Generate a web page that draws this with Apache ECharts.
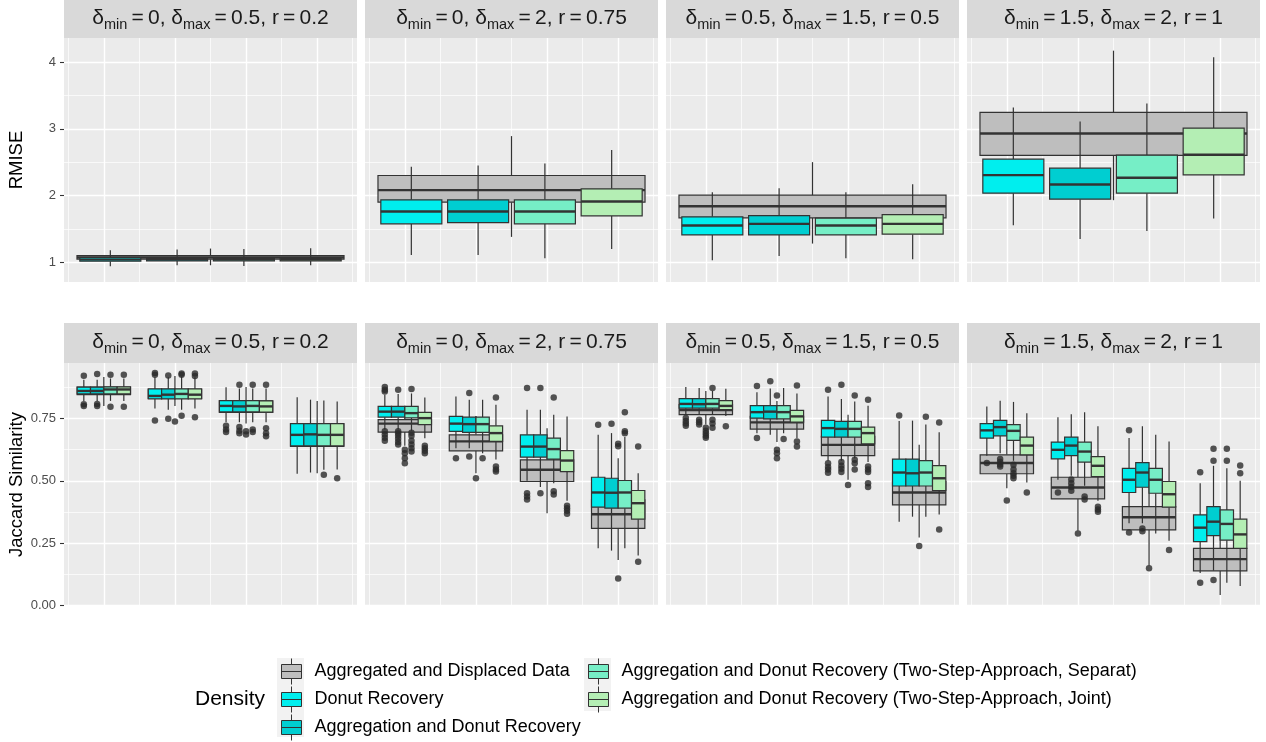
<!DOCTYPE html>
<html>
<head>
<meta charset="utf-8">
<script src="https://cdn.jsdelivr.net/npm/echarts@6/dist/echarts.min.js"></script>
<style>
  html, body { margin: 0; padding: 0; background: #ffffff; }
  #chart { width: 1266px; height: 742px; }
</style>
</head>
<body>
<div id="chart"></div>
<script>
// ---- Categories ----
const methods = [
  'Aggregated and Displaced Data',
  'Donut Recovery',
  'Aggregation and Donut Recovery',
  'Aggregation and Donut Recovery (Two-Step-Approach, Separat)',
  'Aggregation and Donut Recovery (Two-Step-Approach, Joint)'
];
const methodColors = ['#BEBEBE', '#00EEEE', '#00CED1', '#76EEC6', '#B4EEB4'];
const panelDeltaMin = ['0', '0', '0.5', '1.5'];
const panelDeltaMax = ['0.5', '2', '1.5', '2'];
const panelR = ['0.2', '0.75', '0.5', '1'];

// ---- Tick values ----
const rmiseTicks = [1, 2, 3, 4];
const rmiseMinorTicks = [1.5, 2.5, 3.5];
const jaccardTicks = [0, 0.25, 0.5, 0.75];
const jaccardMinorTicks = [0.125, 0.375, 0.625, 0.875];
const groupTicks = [1, 2, 3, 4];
const groupMinorTicks = [0.5, 1.5, 2.5, 3.5, 4.5];

// ---- RMISE: one summary per panel, [min, q1, median, q3, max] ----
const rmiseAggregated = [[0.955, 1.045, 1.07, 1.10, 1.205], [1.38, 1.90, 2.08, 2.30, 2.89], [1.28, 1.665, 1.84, 2.005, 2.50], [1.93, 2.60, 2.93, 3.245, 4.17]];
const rmiseDonut      = [[0.94, 1.015, 1.04, 1.07, 1.18], [1.11, 1.575, 1.76, 1.935, 2.43], [1.03, 1.41, 1.55, 1.68, 2.05], [1.555, 2.035, 2.305, 2.545, 3.32]];
const rmiseAggDonut   = [[0.955, 1.02, 1.045, 1.07, 1.19], [1.11, 1.595, 1.76, 1.935, 2.45], [1.095, 1.41, 1.575, 1.70, 2.11], [1.35, 1.945, 2.165, 2.41, 3.11]];
const rmiseSeparate   = [[0.945, 1.02, 1.045, 1.07, 1.20], [1.06, 1.575, 1.76, 1.935, 2.48], [1.06, 1.41, 1.55, 1.66, 2.05], [1.47, 2.035, 2.265, 2.605, 3.38]];
const rmiseJoint      = [[0.955, 1.02, 1.045, 1.07, 1.21], [1.20, 1.695, 1.91, 2.10, 2.68], [1.045, 1.42, 1.575, 1.715, 2.17], [1.655, 2.31, 2.61, 3.01, 4.07]];

// ---- Jaccard similarity: per panel, four groups of [min, q1, median, q3, max] ----
const jaccardAggregated = [
  [[0.80, 0.845, 0.862, 0.875, 0.916], [0.80, 0.83, 0.848, 0.866, 0.92], [0.73, 0.774, 0.797, 0.82, 0.876], [0.53, 0.638, 0.683, 0.728, 0.82]],
  [[0.64, 0.695, 0.729, 0.745, 0.80], [0.53, 0.620, 0.658, 0.684, 0.76], [0.37, 0.497, 0.544, 0.584, 0.71], [0.182, 0.309, 0.366, 0.423, 0.59]],
  [[0.725, 0.765, 0.783, 0.805, 0.86], [0.655, 0.707, 0.734, 0.758, 0.82], [0.504, 0.601, 0.644, 0.678, 0.765], [0.273, 0.403, 0.453, 0.497, 0.644]],
  [[0.47, 0.528, 0.571, 0.604, 0.66], [0.30, 0.427, 0.473, 0.514, 0.61], [0.16, 0.303, 0.354, 0.396, 0.48], [0.042, 0.139, 0.186, 0.229, 0.32]]
];
const jaccardDonut = [
  [[0.82, 0.848, 0.860, 0.875, 0.905], [0.79, 0.828, 0.840, 0.868, 0.915], [0.735, 0.776, 0.80, 0.821, 0.875], [0.528, 0.640, 0.684, 0.729, 0.835]],
  [[0.705, 0.755, 0.777, 0.798, 0.845], [0.63, 0.698, 0.729, 0.758, 0.838], [0.50, 0.595, 0.637, 0.684, 0.785], [0.229, 0.394, 0.453, 0.514, 0.684]],
  [[0.765, 0.791, 0.808, 0.829, 0.876], [0.69, 0.751, 0.775, 0.801, 0.855], [0.58, 0.675, 0.711, 0.742, 0.838], [0.336, 0.479, 0.533, 0.587, 0.74]],
  [[0.60, 0.671, 0.702, 0.729, 0.798], [0.504, 0.588, 0.624, 0.655, 0.755], [0.33, 0.453, 0.504, 0.55, 0.671], [0.13, 0.256, 0.312, 0.363, 0.49]]
];
const jaccardAggDonut = [
  [[0.82, 0.848, 0.860, 0.875, 0.905], [0.785, 0.828, 0.845, 0.868, 0.915], [0.735, 0.776, 0.798, 0.821, 0.87], [0.533, 0.640, 0.686, 0.729, 0.825]],
  [[0.705, 0.755, 0.777, 0.798, 0.848], [0.63, 0.694, 0.727, 0.755, 0.825], [0.475, 0.595, 0.637, 0.684, 0.785], [0.22, 0.39, 0.452, 0.51, 0.691]],
  [[0.765, 0.791, 0.807, 0.829, 0.872], [0.684, 0.748, 0.777, 0.801, 0.87], [0.58, 0.675, 0.708, 0.738, 0.828], [0.356, 0.479, 0.530, 0.587, 0.741]],
  [[0.61, 0.68, 0.715, 0.742, 0.821], [0.52, 0.601, 0.641, 0.675, 0.767], [0.33, 0.474, 0.533, 0.573, 0.718], [0.14, 0.28, 0.336, 0.396, 0.56]]
];
const jaccardSeparate = [
  [[0.82, 0.848, 0.866, 0.876, 0.91], [0.785, 0.828, 0.848, 0.868, 0.918], [0.735, 0.776, 0.80, 0.821, 0.87], [0.544, 0.640, 0.684, 0.729, 0.822]],
  [[0.70, 0.752, 0.771, 0.798, 0.85], [0.61, 0.694, 0.727, 0.755, 0.825], [0.49, 0.587, 0.627, 0.671, 0.765], [0.229, 0.39, 0.453, 0.501, 0.675]],
  [[0.765, 0.791, 0.808, 0.829, 0.86], [0.69, 0.748, 0.775, 0.801, 0.872], [0.59, 0.675, 0.708, 0.738, 0.818], [0.356, 0.479, 0.533, 0.581, 0.725]],
  [[0.58, 0.662, 0.70, 0.725, 0.816], [0.48, 0.575, 0.617, 0.655, 0.775], [0.289, 0.45, 0.504, 0.55, 0.684], [0.091, 0.262, 0.327, 0.383, 0.55]]
];
const jaccardJoint = [
  [[0.82, 0.848, 0.866, 0.876, 0.91], [0.79, 0.828, 0.845, 0.868, 0.915], [0.735, 0.775, 0.798, 0.82, 0.87], [0.545, 0.640, 0.684, 0.729, 0.818]],
  [[0.67, 0.725, 0.751, 0.774, 0.834], [0.585, 0.658, 0.691, 0.72, 0.805], [0.42, 0.537, 0.581, 0.621, 0.758], [0.20, 0.346, 0.41, 0.461, 0.53]],
  [[0.76, 0.785, 0.80, 0.821, 0.869], [0.67, 0.735, 0.758, 0.782, 0.85], [0.575, 0.648, 0.691, 0.715, 0.801], [0.365, 0.461, 0.51, 0.561, 0.694]],
  [[0.493, 0.604, 0.641, 0.675, 0.771], [0.42, 0.517, 0.56, 0.597, 0.718], [0.26, 0.394, 0.446, 0.497, 0.657], [0.078, 0.229, 0.285, 0.346, 0.50]]
];

// ---- Jaccard outliers: per panel, per group ----
const jaccardAggregatedOut = [
  [[], [0.738], [0.698, 0.685], []],
  [[0.624, 0.61, 0.59, 0.57], [0.51], [], [0.648, 0.638, 0.108]],
  [[0.712, 0.70, 0.69, 0.68, 0.672], [0.842, 0.624, 0.61, 0.59], [0.483], [0.238]],
  [[0.421], [0.289], [0.149], []]
];
const jaccardDonutOut = [
  [[0.921, 0.807, 0.80], [0.925, 0.932, 0.742], [0.72, 0.705, 0.695], []],
  [[0.876, 0.865, 0.858, 0.698, 0.685, 0.672, 0.66], [0.59], [0.872, 0.45, 0.437, 0.425], [0.724]],
  [[0.752, 0.74, 0.73, 0.72], [0.88, 0.671], [0.865, 0.57, 0.555, 0.545, 0.532], [0.762]],
  [[0.571], [0.453], [0.702, 0.293], [0.534, 0.091]]
];
const jaccardAggDonutOut = [
  [[0.928, 0.808, 0.80], [0.922, 0.749], [0.885, 0.715, 0.70, 0.69], []],
  [[0.865, 0.698, 0.69, 0.68, 0.668, 0.655, 0.645], [0.852, 0.597], [0.872, 0.45], [0.728]],
  [[0.745, 0.735, 0.725], [0.899], [0.885, 0.575, 0.56, 0.548, 0.535], []],
  [[0.587, 0.575, 0.565, 0.557], [0.505, 0.49, 0.475, 0.46], [0.309, 0.298], [0.628, 0.58, 0.102]]
];
const jaccardSeparateOut = [
  [[0.925, 0.797], [0.925, 0.93, 0.761], [0.885, 0.705, 0.695], [0.524]],
  [[0.868, 0.692, 0.68, 0.66, 0.645, 0.63, 0.617], [0.59], [0.834, 0.458, 0.445], [0.775, 0.698, 0.69]],
  [[0.872, 0.745, 0.73, 0.712], [0.667], [0.842, 0.584, 0.57, 0.545], [0.757]],
  [[0.564, 0.545, 0.53, 0.52, 0.51], [0.437, 0.425], [], [0.628, 0.58]]
];
const jaccardJointOut = [
  [[0.925, 0.797], [0.92, 0.93, 0.755], [0.885, 0.71, 0.69, 0.678], [0.51]],
  [[0.64, 0.63, 0.62, 0.61], [0.834, 0.557, 0.545, 0.537], [0.40, 0.39, 0.38, 0.368], [0.637, 0.175]],
  [[0.718], [0.882, 0.657, 0.637], [0.825, 0.557, 0.545, 0.535, 0.49, 0.475], [0.734, 0.305]],
  [[0.453], [0.396, 0.385, 0.376], [0.222], [0.561, 0.53]]
];

const rmiseByMethod = [rmiseAggregated, rmiseDonut, rmiseAggDonut, rmiseSeparate, rmiseJoint];
const jaccardByMethod = [jaccardAggregated, jaccardDonut, jaccardAggDonut, jaccardSeparate, jaccardJoint];
const jaccardOutByMethod = [jaccardAggregatedOut, jaccardDonutOut, jaccardAggDonutOut, jaccardSeparateOut, jaccardJointOut];

// ---- Layout ----
const FONT = "'Liberation Sans', Arial, Helvetica, sans-serif";
const PANEL_LEFT = [64, 365, 666, 967];
const PANEL_WIDTH = 293;
const ROWS = [
  { top: 38, height: 244, stripTop: 0, stripHeight: 38, range: [0.704, 4.36], ticks: rmiseTicks, minor: rmiseMinorTicks, title: 'RMISE', fmt: v => String(v) },
  { top: 363, height: 243, stripTop: 323, stripHeight: 40, range: [-0.002, 0.972], ticks: jaccardTicks, minor: jaccardMinorTicks, title: 'Jaccard Similarity', fmt: v => v.toFixed(2) }
];
const X_RANGE = [0.44, 4.56];
const OUTLINE = '#333333';
const EQ = '\u2009=\u2009';

// box position in the upper row: the aggregated box spans the panel, the others are spread across it
function rmisePlacement(m) {
  return m === 0 ? { x: 2.5, half: 1.8775 } : { x: 2.5 + (m - 2.5) * 0.939, half: 0.429 };
}
// box position in the lower row: dodged inside each of the four groups
function jaccardPlacement(m, g) {
  const k = g + 1;
  return m === 0 ? { x: k, half: 0.375 } : { x: k + (m - 2.5) * 0.1875, half: 0.09375 };
}

function boxRenderer(color, half) {
  return function (params, api) {
    const x = api.value(0);
    const lo = api.coord([x - half, api.value(2)]);
    const hi = api.coord([x + half, api.value(4)]);
    const top = api.coord([x, api.value(5)]);
    const bottom = api.coord([x, api.value(1)]);
    const mid = api.coord([x, api.value(3)]);
    const cx = top[0];
    const thin = { stroke: OUTLINE, lineWidth: 1.2 };
    return {
      type: 'group',
      children: [
        { type: 'line', shape: { x1: cx, y1: top[1], x2: cx, y2: hi[1] }, style: thin },
        { type: 'line', shape: { x1: cx, y1: lo[1], x2: cx, y2: bottom[1] }, style: thin },
        { type: 'rect', shape: { x: lo[0], y: hi[1], width: hi[0] - lo[0], height: lo[1] - hi[1] },
          style: { fill: color, stroke: OUTLINE, lineWidth: 1.2 } },
        { type: 'line', shape: { x1: lo[0], y1: mid[1], x2: hi[0], y2: mid[1] }, style: { stroke: OUTLINE, lineWidth: 2.4 } }
      ]
    };
  };
}

const grids = [], xAxes = [], yAxes = [], series = [], graphic = [];

ROWS.forEach((row, r) => {
  PANEL_LEFT.forEach((left, c) => {
    const g = r * 4 + c;
    grids.push({ left: left, top: row.top, width: PANEL_WIDTH, height: row.height,
      show: true, backgroundColor: '#EBEBEB', borderWidth: 0 });
    const baseX = { type: 'value', gridIndex: g, min: X_RANGE[0], max: X_RANGE[1],
      axisLine: { show: false }, axisLabel: { show: false } };
    xAxes.push(Object.assign({}, baseX, {
      axisTick: { show: false, customValues: groupTicks },
      splitLine: { show: true, lineStyle: { color: '#FFFFFF', width: 1.4 } } }));
    xAxes.push(Object.assign({}, baseX, {
      axisTick: { show: false, customValues: groupMinorTicks },
      splitLine: { show: true, lineStyle: { color: '#FFFFFF', width: 0.7 } } }));
    const baseY = { type: 'value', gridIndex: g, min: row.range[0], max: row.range[1], axisLine: { show: false } };
    yAxes.push(Object.assign({}, baseY, {
      axisTick: { show: c === 0, length: 4, lineStyle: { color: OUTLINE, width: 1.1 }, customValues: row.ticks },
      axisLabel: { show: c === 0, customValues: row.ticks, formatter: row.fmt, fontSize: 13, color: '#4D4D4D', margin: 8, fontFamily: FONT },
      splitLine: { show: true, lineStyle: { color: '#FFFFFF', width: 1.4 } },
      name: c === 0 ? row.title : '', nameLocation: 'middle', nameGap: 38, nameRotate: 90,
      nameTextStyle: { fontSize: 18.5, color: '#000000', fontFamily: FONT } }));
    yAxes.push(Object.assign({}, baseY, {
      axisTick: { show: false, customValues: row.minor },
      axisLabel: { show: false },
      splitLine: { show: true, lineStyle: { color: '#FFFFFF', width: 0.7 } } }));

    // facet strip
    graphic.push({ type: 'rect', silent: true, z: 1,
      shape: { x: left, y: row.stripTop, width: PANEL_WIDTH, height: row.stripHeight },
      style: { fill: '#D9D9D9' } });
    graphic.push({ type: 'text', silent: true, z: 2,
      x: left + PANEL_WIDTH / 2, y: row.stripTop + row.stripHeight / 2 + 1,
      style: {
        text: '{m|δ}{s|min}{m|' + EQ + panelDeltaMin[c] + ', δ}{s|max}{m|' + EQ + panelDeltaMax[c] + ', r' + EQ + panelR[c] + '}',
        align: 'center', verticalAlign: 'middle',
        rich: {
          m: { fontSize: 21, lineHeight: 25, verticalAlign: 'top', fill: '#1A1A1A', fontFamily: FONT },
          s: { fontSize: 14.5, lineHeight: 12, verticalAlign: 'bottom', fill: '#1A1A1A', fontFamily: FONT }
        }
      } });
  });
});

methods.forEach((name, m) => {
  const color = methodColors[m];
  // upper row: RMISE
  for (let c = 0; c < 4; c++) {
    const p = rmisePlacement(m);
    const s = rmiseByMethod[m][c];
    series.push({ type: 'custom', name: name, xAxisIndex: 2 * c, yAxisIndex: 2 * c,
      itemStyle: { color: color }, encode: { x: 0, y: [1, 2, 3, 4, 5] },
      renderItem: boxRenderer(color, p.half),
      data: [[p.x, s[0], s[1], s[2], s[3], s[4]]] });
  }
  // lower row: Jaccard similarity
  for (let c = 0; c < 4; c++) {
    const g = 4 + c;
    const boxes = jaccardByMethod[m][c];
    const half = jaccardPlacement(m, 0).half;
    series.push({ type: 'custom', name: name, xAxisIndex: 2 * g, yAxisIndex: 2 * g,
      itemStyle: { color: color }, encode: { x: 0, y: [1, 2, 3, 4, 5] },
      renderItem: boxRenderer(color, half),
      data: boxes.map((s, k) => [jaccardPlacement(m, k).x, s[0], s[1], s[2], s[3], s[4]]) });
    const pts = [];
    jaccardOutByMethod[m][c].forEach((vals, k) => {
      const x = jaccardPlacement(m, k).x;
      vals.forEach(v => pts.push([x, v]));
    });
    series.push({ type: 'scatter', name: name, xAxisIndex: 2 * g, yAxisIndex: 2 * g,
      symbol: 'circle', symbolSize: 6.5, itemStyle: { color: '#2B2B2B' }, silent: true, data: pts });
  }
});

// legend keys: light background behind the box glyphs
graphic.push({ type: 'rect', silent: true, z: 0, shape: { x: 277, y: 658, width: 27, height: 79 }, style: { fill: '#F2F2F2' } });
graphic.push({ type: 'rect', silent: true, z: 0, shape: { x: 584, y: 658, width: 27, height: 53 }, style: { fill: '#F2F2F2' } });
graphic.push({ type: 'text', silent: true, x: 195, y: 699,
  style: { text: 'Density', fontSize: 21, fill: '#000000', fontFamily: FONT, verticalAlign: 'middle', align: 'left' } });

const KEY_ICON = 'path://M10,0L10,6M0,6L20,6L20,20L0,20ZM0,13L20,13M10,20L10,26';
const legendBase = {
  orient: 'vertical', top: 658, padding: 0, itemWidth: 20, itemHeight: 26, itemGap: 1,
  selectedMode: false,
  itemStyle: { borderColor: OUTLINE, borderWidth: 1 },
  textStyle: { fontSize: 18, color: '#000000', fontFamily: FONT, padding: [0, 0, 0, 8] }
};

const chart = echarts.init(document.getElementById('chart'), null, { renderer: 'canvas' });
chart.setOption({
  animation: false,
  backgroundColor: '#FFFFFF',
  grid: grids,
  xAxis: xAxes,
  yAxis: yAxes,
  legend: [
    Object.assign({}, legendBase, { left: 281, data: methods.slice(0, 3).map(n => ({ name: n, icon: KEY_ICON })) }),
    Object.assign({}, legendBase, { left: 588, data: methods.slice(3).map(n => ({ name: n, icon: KEY_ICON })) })
  ],
  graphic: graphic,
  series: series
});
</script>
</body>
</html>
